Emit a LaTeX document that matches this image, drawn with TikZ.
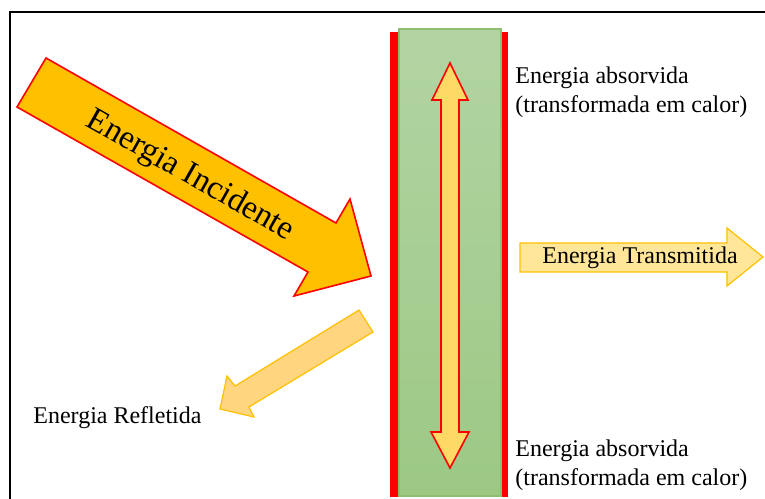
\documentclass[tikz,border=0pt]{standalone}
\usepackage{fontspec}
\setmainfont{Liberation Serif}
\definecolor{enRed}{HTML}{FF0000}
\definecolor{enAmber}{HTML}{FFC000}
\definecolor{enGold}{HTML}{FFD966}
\definecolor{enPale}{HTML}{FFD57F}
\definecolor{enCream}{HTML}{FFE699}
\definecolor{enLeafTop}{HTML}{B2D4A3}
\definecolor{enLeafBot}{HTML}{9CC884}
\definecolor{enLeafEdge}{HTML}{8DBF72}

\begin{document}
\begin{tikzpicture}[
  x=0.5pt,y=-0.5pt,
  lbl/.style={font=\fontsize{12}{14.5}\selectfont,align=left,inner sep=0pt,anchor=west},
  big/.style={font=\fontsize{16.5}{18}\selectfont,inner sep=0pt},
  hot/.style={draw=enRed,line width=0.8pt,line join=miter},
  soft/.style={draw=enAmber,line width=0.6pt,line join=miter}
]
\clip (0,0) rectangle (765,498);
% frame
\draw[line width=0.8pt] (10,12) rectangle (780,520);
% wall
\fill[enRed] (390,32) rectangle (508,497);
\draw[enLeafEdge,line width=0.6pt,top color=enLeafTop,bottom color=enLeafBot]
  (399,29) rectangle (501,496);
% absorbed, both ways
\draw[hot,fill=enGold] (450,63) -- (468,100) -- (459,100) -- (459,432) -- (469,432)
  -- (450,468) -- (431,432) -- (441,432) -- (441,100) -- (432,100) -- cycle;
% incident
\draw[hot,fill=enAmber] (46,58) -- (336,223) -- (350,199) -- (371,276)
  -- (294,296) -- (308,272) -- (17,107) -- cycle;
\node[big,rotate=-29.5] (inc) at (190,176) {Energia Incidente};
% reflected
\draw[soft,fill=enPale] (359,310) -- (373,332) -- (249,407) -- (254,417)
  -- (220,409) -- (227,376) -- (235,386) -- cycle;
\node[lbl] (refl) at (33,418) {Energia Refletida};
% transmitted
\draw[soft,fill=enCream] (520,243) -- (727,243) -- (727,228) -- (763,257)
  -- (727,286) -- (727,272) -- (520,272) -- cycle;
\node[lbl,anchor=center] (trans) at (640,258) {Energia Transmitida};
% labels
\node[lbl] (absTop) at (515,92) {Energia absorvida\\(transformada em calor)};
\node[lbl] (absBot) at (515,465) {Energia absorvida\\(transformada em calor)};
\end{tikzpicture}
\end{document}
